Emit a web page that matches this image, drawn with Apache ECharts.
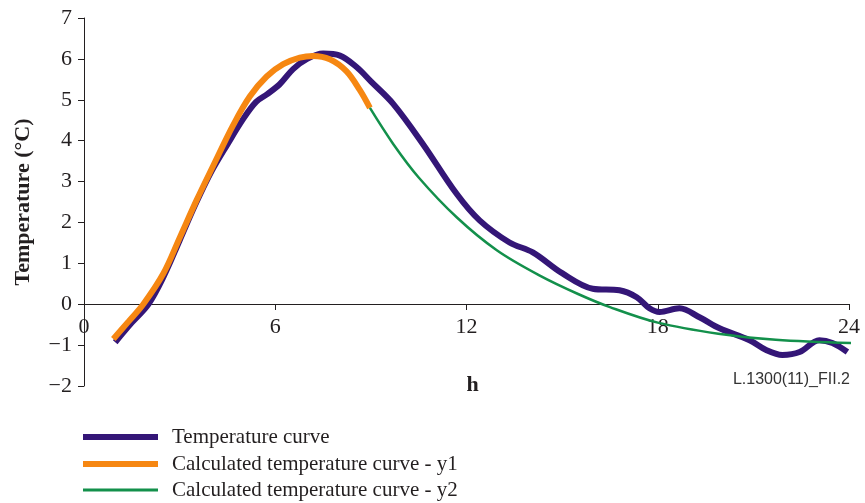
<!DOCTYPE html>
<html>
<head>
<meta charset="utf-8">
<script src="https://cdn.jsdelivr.net/npm/echarts@6/dist/echarts.min.js"></script>
<style>html,body{margin:0;padding:0;background:#fff}#c{width:865px;height:503px}</style>
</head>
<body>
<div id="c"></div>
<script>
// Data (hours, °C)
var seriesNames = ['Temperature curve', 'Calculated temperature curve - y1', 'Calculated temperature curve - y2'];
var xTicks = [0, 6, 12, 18, 24];
var yTicks = [-2, -1, 0, 1, 2, 3, 4, 5, 6, 7];
var temperature = [
  [0.98,-0.93],[1.5,-0.45],[2.02,0],[2.5,0.68],[3.0,1.56],[3.5,2.45],[4.0,3.25],[4.5,3.91],
  [5.0,4.54],[5.4,4.95],[5.75,5.14],[6.14,5.38],[6.56,5.75],[7.0,6.0],[7.5,6.13],[8.03,6.08],
  [8.55,5.8],[9.0,5.45],[9.7,4.9],[10.63,3.92],[11.69,2.7],[12.41,2.05],[13.35,1.51],[14.08,1.27],
  [15.0,0.76],[15.96,0.38],[16.8,0.34],[17.34,0.17],[17.74,-0.1],[18.06,-0.19],[18.68,-0.1],
  [19.31,-0.32],[19.94,-0.59],[20.88,-0.88],[21.4,-1.12],[21.91,-1.24],[22.45,-1.17],[23.07,-0.88],
  [23.48,-0.95],[23.95,-1.17]
];
var calcY1 = [
  [0.92,-0.85],[1.4,-0.42],[1.86,0],[2.49,0.75],[3.01,1.64],[3.53,2.54],[4.05,3.38],[4.68,4.38],
  [5.2,5.08],[5.73,5.57],[6.25,5.87],[6.77,6.03],[7.19,6.07],[7.71,5.99],[8.23,5.7],[8.65,5.24],[8.97,4.8]
];
var calcY2 = [
  [8.97,4.8],[9.7,3.92],[10.5,3.1],[11.7,2.12],[12.95,1.32],[14.3,0.7],[15.5,0.25],
  [16.5,-0.07],[18.0,-0.45],[19.9,-0.72],[21.7,-0.87],[24.08,-0.95]
];

var ink = '#231f20';
var serif = '"Liberation Serif", "Times New Roman", serif';
var colors = ['#341677', '#f68712', '#13904b'];
var widths = [6, 6, 2.5];

function fmt(v) { return v < 0 ? '\u2212' + Math.abs(v) : String(v); }

function legendFor(i, top) {
  return {
    data: [seriesNames[i]],
    left: 83, top: top, padding: 0,
    icon: 'rect', itemWidth: 75, itemHeight: widths[i] === 6 ? 6 : 3,
    selectedMode: false,
    textStyle: { fontFamily: serif, fontSize: 21, color: ink, lineHeight: 22, padding: [0, 0, 0, 9] }
  };
}

var chart = echarts.init(document.getElementById('c'));
chart.setOption({
  animation: false,
  backgroundColor: '#fff',
  grid: { left: 84, right: 16, top: 18, bottom: 117, containLabel: false },
  legend: [legendFor(0, 426), legendFor(1, 453), legendFor(2, 479)],
  xAxis: {
    type: 'value', min: xTicks[0], max: xTicks[xTicks.length - 1], interval: 6,
    position: 'bottom', offset: -82,
    axisLine: { onZero: false, lineStyle: { color: ink, width: 1 } },
    axisTick: { show: true, length: 6, lineStyle: { color: ink } },
    axisLabel: { fontFamily: serif, fontSize: 22, color: ink, margin: 12, formatter: fmt },
    splitLine: { show: false },
    name: 'h', nameLocation: 'middle', nameGap: 70,
    nameTextStyle: { fontFamily: serif, fontSize: 22, fontWeight: 'bold', color: ink, padding: [0, 0, 0, 12] }
  },
  yAxis: {
    type: 'value', min: yTicks[0], max: yTicks[yTicks.length - 1], interval: 1,
    axisLine: { show: true, onZero: false, lineStyle: { color: ink, width: 1 } },
    axisTick: { show: true, length: 6, lineStyle: { color: ink } },
    axisLabel: { fontFamily: serif, fontSize: 22, color: ink, margin: 12, formatter: fmt },
    splitLine: { show: false },
    name: 'Temperature (°C)', nameLocation: 'middle', nameGap: 50,
    nameTextStyle: { fontFamily: serif, fontSize: 22, fontWeight: 'bold', color: ink }
  },
  series: [
    { name: seriesNames[0], type: 'line', data: temperature, smooth: 0.35, showSymbol: false, symbol: 'none',
      lineStyle: { color: colors[0], width: widths[0] }, itemStyle: { color: colors[0] }, z: 2 },
    { name: seriesNames[1], type: 'line', data: calcY1, smooth: 0.35, showSymbol: false, symbol: 'none',
      lineStyle: { color: colors[1], width: widths[1] }, itemStyle: { color: colors[1] }, z: 3 },
    { name: seriesNames[2], type: 'line', data: calcY2, smooth: 0.35, showSymbol: false, symbol: 'none', clip: false,
      lineStyle: { color: colors[2], width: widths[2] }, itemStyle: { color: colors[2] }, z: 4 }
  ],
  graphic: [{
    type: 'text', right: 15, top: 372,
    style: { text: 'L.1300(11)_FII.2', font: '16px "Liberation Sans", Arial, sans-serif', fill: '#333' }
  }]
});
</script>
</body>
</html>
